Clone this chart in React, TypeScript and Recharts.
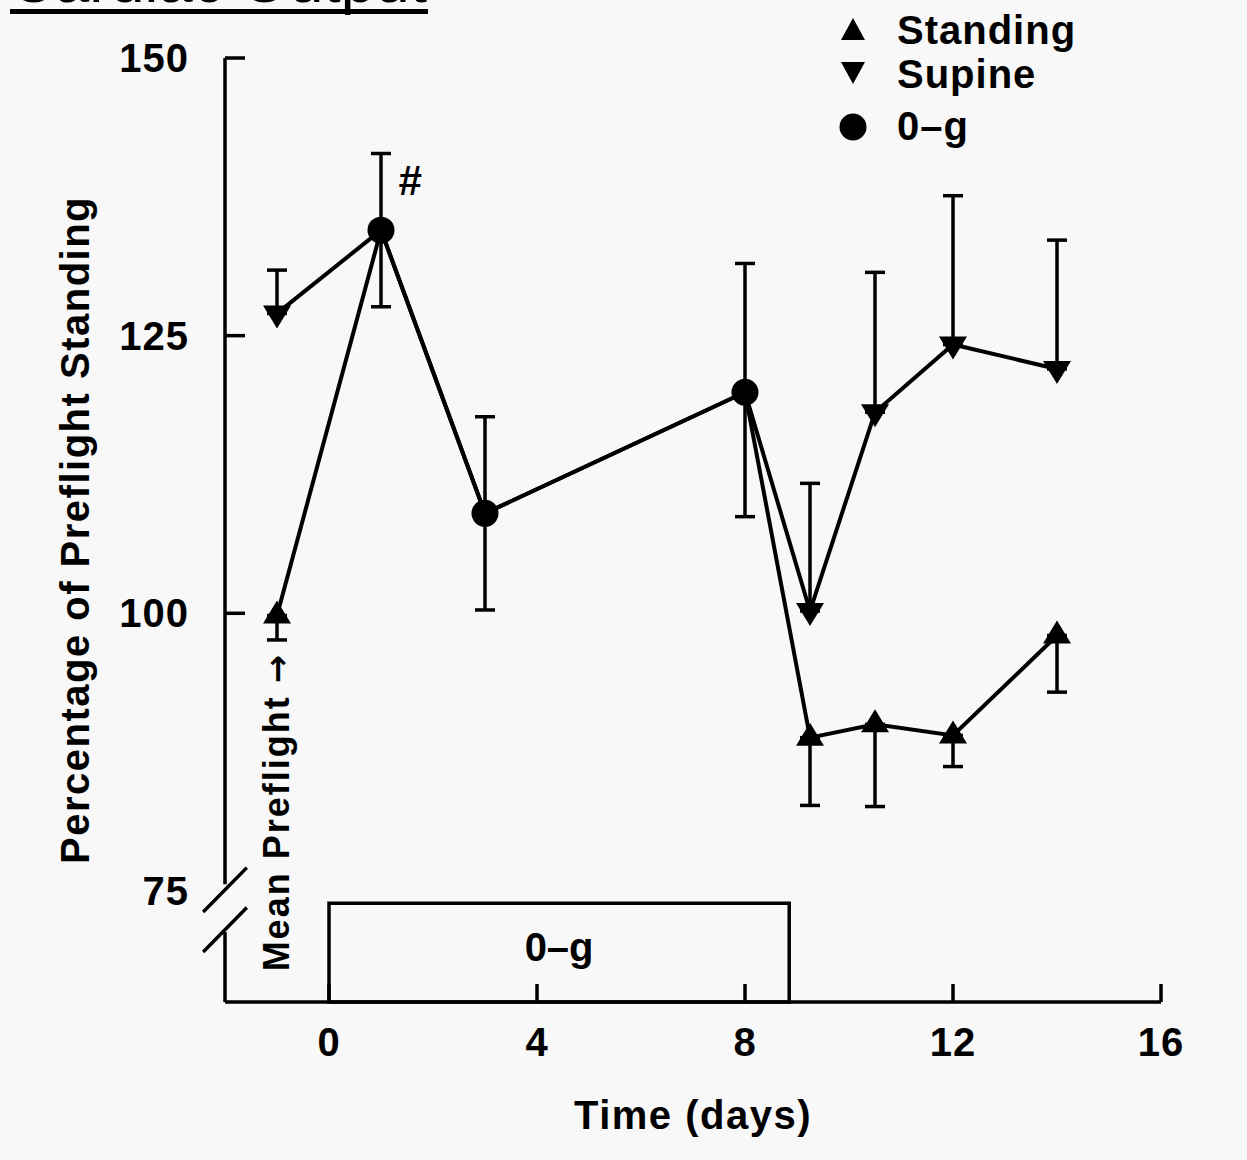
import React from "react";
import {
  ScatterChart,
  Scatter,
  XAxis,
  YAxis,
  ErrorBar,
  ReferenceArea,
  ReferenceLine,
  ReferenceDot,
  Legend,
  Label,
} from "recharts";

// days on the x axis
const preDays = [-1];
const flightDays = [1, 3, 8];
const postDays = [9.25, 10.5, 12, 14];

// standing (error shown downwards only)
const standingPre = [99.8];
const standingPreErr = [2.2];
const standingPost = [88.8, 90.0, 89.0, 98.0];
const standingPostErr = [6.1, 7.4, 2.8, 5.1];

// supine (error shown upwards only)
const supinePre = [127.0];
const supinePreErr = [3.9];
const supinePost = [100.2, 118.1, 124.2, 122.0];
const supinePostErr = [11.5, 12.6, 13.4, 11.6];

// in flight
const zeroG = [134.5, 109.0, 119.9];
const zeroGLow = [6.9, 8.7, 11.2];
const zeroGHigh = [6.9, 8.7, 11.6];

const xTicks = [0, 4, 8, 12, 16];
const yTicks = [75, 100, 125, 150];
const legendItems = ["Standing", "Supine", "0–g"];

const FONT = '"Liberation Sans", Arial, sans-serif';
const BLACK = "#000";

// point tables built from the arrays above
const flightPts = flightDays.map((x, i) => ({ x, y: zeroG[i], err: [zeroGLow[i], zeroGHigh[i]] }));
const standingPts = [
  ...preDays.map((x, i) => ({ x, y: standingPre[i], err: [standingPreErr[i], 0] })),
  ...postDays.map((x, i) => ({ x, y: standingPost[i], err: [standingPostErr[i], 0] })),
];
const supinePts = [
  ...preDays.map((x, i) => ({ x, y: supinePre[i], err: [0, supinePreErr[i]] })),
  ...postDays.map((x, i) => ({ x, y: supinePost[i], err: [0, supinePostErr[i]] })),
];
const standingPath = [standingPts[0], ...flightPts, ...standingPts.slice(1)];
const supinePath = [supinePts[0], ...flightPts, ...supinePts.slice(1)];

const Empty = () => <g />;

const UpTri = (p: any) => (
  <polygon
    points={`${p.cx},${p.cy - 15} ${p.cx - 14},${p.cy + 8} ${p.cx + 14},${p.cy + 8}`}
    fill={BLACK}
  />
);
const DownTri = (p: any) => (
  <polygon
    points={`${p.cx - 14},${p.cy - 8} ${p.cx + 14},${p.cy - 8} ${p.cx},${p.cy + 15}`}
    fill={BLACK}
  />
);
const Dot = (p: any) => <circle cx={p.cx} cy={p.cy} r={13.5} fill={BLACK} />;

const YTick = (props: any) => {
  const { x, y, payload } = props;
  return (
    <g>
      {payload.value !== 75 && (
        <line x1={x} y1={y} x2={x + 20} y2={y} stroke={BLACK} strokeWidth={3.5} />
      )}
      <text
        x={x - 36}
        y={y + 14}
        textAnchor="end"
        fontSize={40}
        fontWeight="bold"
        fontFamily={FONT}
        letterSpacing={1}
        fill={BLACK}
      >
        {payload.value}
      </text>
    </g>
  );
};

const XTick = (props: any) => {
  const { x, y, payload } = props;
  return (
    <g>
      <line x1={x} y1={y} x2={x} y2={y - 18} stroke={BLACK} strokeWidth={3.5} />
      <text
        x={x}
        y={y + 54}
        textAnchor="middle"
        fontSize={40}
        fontWeight="bold"
        fontFamily={FONT}
        letterSpacing={1}
        fill={BLACK}
      >
        {payload.value}
      </text>
    </g>
  );
};

const YTitle = (props: any) => {
  const vb = props.viewBox;
  const cx = vb.x + 75;
  const cy = vb.y + vb.height / 2;
  return (
    <text
      x={cx}
      y={cy}
      transform={`rotate(-90 ${cx} ${cy})`}
      textAnchor="middle"
      dominantBaseline="central"
      fontSize={40}
      fontWeight="bold"
      fontFamily={FONT}
      letterSpacing={1.5}
      fill={BLACK}
    >
      Percentage of Preflight Standing
    </text>
  );
};

const XTitle = (props: any) => {
  const vb = props.viewBox;
  return (
    <text
      x={vb.x + vb.width / 2}
      y={vb.y + 127}
      textAnchor="middle"
      fontSize={40}
      fontWeight="bold"
      fontFamily={FONT}
      letterSpacing={1.5}
      fill={BLACK}
    >
      Time (days)
    </text>
  );
};

const MeanLabel = (props: any) => {
  const vb = props.viewBox;
  const cx = vb.x;
  const cy = vb.y;
  return (
    <text
      x={cx}
      y={cy}
      transform={`rotate(-90 ${cx} ${cy})`}
      textAnchor="middle"
      dominantBaseline="central"
      fontSize={36}
      fontWeight="bold"
      fontFamily={FONT}
      letterSpacing={2}
      fill={BLACK}
    >
      Mean Preflight{" "}
      <tspan fontFamily='"DejaVu Sans", sans-serif' fontSize={34}>
        →
      </tspan>
    </text>
  );
};

const LegendBox = () => (
  <svg width={270} height={160}>
    <polygon points="23,18 11,40 35,40" fill={BLACK} />
    <polygon points="11,62 35,62 23,84" fill={BLACK} />
    <circle cx={23} cy={127} r={13.5} fill={BLACK} />
    {legendItems.map((name, i) => (
      <text
        key={name}
        x={67}
        y={[44, 88, 140][i]}
        fontSize={40}
        fontWeight="bold"
        fontFamily={FONT}
        letterSpacing={1}
        fill={BLACK}
      >
        {name}
      </text>
    ))}
  </svg>
);

export default function App() {
  return (
    <div
      style={{
        position: "absolute",
        left: 0,
        top: 0,
        width: 1247,
        height: 1160,
        background: "#f8f8f9",
        overflow: "hidden",
      }}
    >
      <svg
        width={500}
        height={20}
        style={{ position: "absolute", left: 0, top: 0 }}
      >
        <text x={10} y={2} fontSize={62} fontFamily={FONT} fill={BLACK}>
          Cardiac Output
        </text>
        <rect x={10} y={9} width={418} height={5} fill={BLACK} />
      </svg>

      <ScatterChart
        width={1247}
        height={1160}
        margin={{ top: 58, right: 86, bottom: 0, left: 0 }}
      >
        <XAxis
          type="number"
          dataKey="x"
          domain={[-2, 16]}
          allowDataOverflow
          ticks={xTicks}
          height={158}
          tickSize={0}
          tickMargin={0}
          tick={<XTick />}
          axisLine={{ stroke: BLACK, strokeWidth: 3.5 }}
          tickLine={false}
          label={<Label content={XTitle} />}
        />
        <YAxis
          type="number"
          dataKey="y"
          domain={[65, 150]}
          allowDataOverflow
          ticks={yTicks}
          width={225}
          tickSize={0}
          tickMargin={0}
          tick={<YTick />}
          axisLine={false}
          tickLine={false}
          label={<Label content={YTitle} />}
        />

        {/* y axis drawn in two pieces with the break marks */}
        <ReferenceLine
          segment={[{ x: -2, y: 150 }, { x: -2, y: 75.6 }]}
          stroke={BLACK}
          strokeWidth={3.5}
          ifOverflow="visible"
        />
        <ReferenceLine
          segment={[{ x: -2, y: 71.3 }, { x: -2, y: 65 }]}
          stroke={BLACK}
          strokeWidth={3.5}
          ifOverflow="visible"
        />
        <ReferenceLine
          segment={[{ x: -2.42, y: 73.1 }, { x: -1.58, y: 77.1 }]}
          stroke={BLACK}
          strokeWidth={3.5}
          ifOverflow="visible"
        />
        <ReferenceLine
          segment={[{ x: -2.42, y: 69.5 }, { x: -1.58, y: 73.5 }]}
          stroke={BLACK}
          strokeWidth={3.5}
          ifOverflow="visible"
        />

        <ReferenceArea
          x1={0}
          x2={8.85}
          y1={65}
          y2={73.9}
          fill="none"
          stroke={BLACK}
          strokeWidth={3.5}
          ifOverflow="visible"
          label={{
            value: "0–g",
            position: "center",
            fontSize: 40,
            fontWeight: "bold",
            fontFamily: FONT,
            fill: BLACK,
            dy: -6,
          }}
        />

        <ReferenceDot
          x={1.55}
          y={139}
          r={0}
          fill="none"
          stroke="none"
          label={{
            value: "#",
            position: "center",
            fontSize: 42,
            fontWeight: "bold",
            fontStyle: "italic",
            fontFamily: FONT,
            fill: BLACK,
          }}
        />
        <ReferenceDot
          x={-1}
          y={82.1}
          r={0}
          fill="none"
          stroke="none"
          ifOverflow="visible"
          label={<Label content={MeanLabel} />}
        />

        {/* connecting lines */}
        <Scatter
          data={standingPath}
          line={{ stroke: BLACK, strokeWidth: 4 }}
          shape={Empty}
          legendType="none"
          isAnimationActive={false}
        />
        <Scatter
          data={supinePath}
          line={{ stroke: BLACK, strokeWidth: 4 }}
          shape={Empty}
          legendType="none"
          isAnimationActive={false}
        />

        {/* markers with error bars */}
        <Scatter name="Standing" data={standingPts} shape={UpTri} isAnimationActive={false}>
          <ErrorBar dataKey="err" direction="y" width={10} strokeWidth={3.5} stroke={BLACK} />
        </Scatter>
        <Scatter name="Supine" data={supinePts} shape={DownTri} isAnimationActive={false}>
          <ErrorBar dataKey="err" direction="y" width={10} strokeWidth={3.5} stroke={BLACK} />
        </Scatter>
        <Scatter name="0-g" data={flightPts} shape={Dot} isAnimationActive={false}>
          <ErrorBar dataKey="err" direction="y" width={10} strokeWidth={3.5} stroke={BLACK} />
        </Scatter>

        <Legend
          layout="vertical"
          align="center"
          verticalAlign="middle"
          content={() => <LegendBox />}
          wrapperStyle={{ top: 0, left: 830, width: 270, height: 160 }}
        />
      </ScatterChart>
    </div>
  );
}
